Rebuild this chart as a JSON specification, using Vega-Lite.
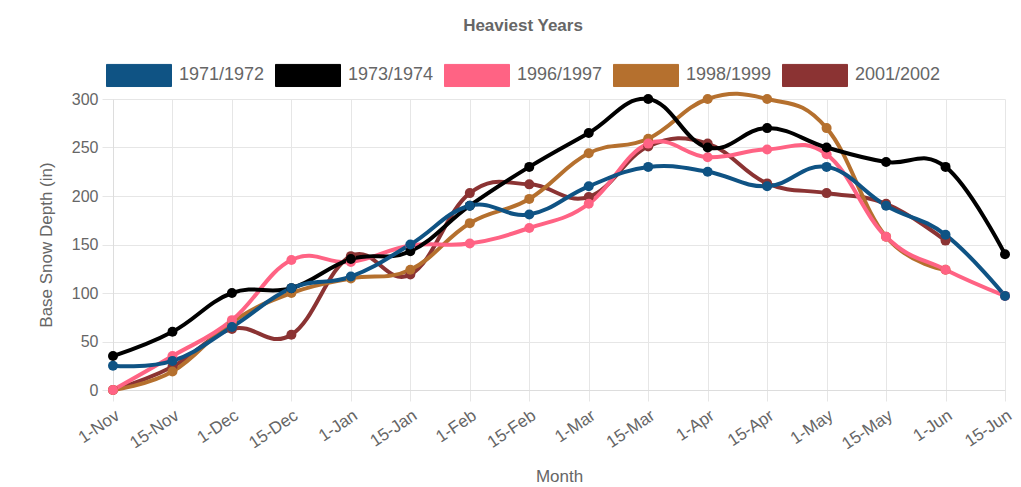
{
  "$schema": "https://vega.github.io/schema/vega-lite/v6.json",
  "width": 892,
  "height": 291,
  "autosize": {"type": "none"},
  "padding": {"left": 113, "top": 99, "right": 16, "bottom": 97},
  "background": "white",
  "title": {
    "text": "Heaviest Years",
    "fontSize": 17,
    "fontWeight": "bold",
    "color": "#666666",
    "font": "Liberation Sans",
    "anchor": "middle",
    "frame": "group",
    "dx": -36,
    "offset": 7
  },
  "config": {
    "view": {"stroke": null},
    "font": "Liberation Sans",
    "axis": {
      "labelFont": "Liberation Sans",
      "labelFontSize": 16,
      "labelColor": "#666666",
      "titleFont": "Liberation Sans",
      "titleFontSize": 17,
      "titleFontWeight": "normal",
      "titleColor": "#666666",
      "gridColor": "#e6e6e6",
      "gridOpacity": 1,
      "tickColor": "#e6e6e6",
      "domainColor": "#dddddd",
      "tickSize": 11
    }
  },
  "data": {
    "values": [
      {"season": "2001/2002", "date": "1-Nov", "depth": 0},
      {"season": "2001/2002", "date": "15-Nov", "depth": 24},
      {"season": "2001/2002", "date": "1-Dec", "depth": 63},
      {"season": "2001/2002", "date": "15-Dec", "depth": 57},
      {"season": "2001/2002", "date": "1-Jan", "depth": 138},
      {"season": "2001/2002", "date": "15-Jan", "depth": 119},
      {"season": "2001/2002", "date": "1-Feb", "depth": 203},
      {"season": "2001/2002", "date": "15-Feb", "depth": 212},
      {"season": "2001/2002", "date": "1-Mar", "depth": 199},
      {"season": "2001/2002", "date": "15-Mar", "depth": 251},
      {"season": "2001/2002", "date": "1-Apr", "depth": 254},
      {"season": "2001/2002", "date": "15-Apr", "depth": 213},
      {"season": "2001/2002", "date": "1-May", "depth": 203},
      {"season": "2001/2002", "date": "15-May", "depth": 192},
      {"season": "2001/2002", "date": "1-Jun", "depth": 154},
      {"season": "1998/1999", "date": "1-Nov", "depth": 0},
      {"season": "1998/1999", "date": "15-Nov", "depth": 19},
      {"season": "1998/1999", "date": "1-Dec", "depth": 70},
      {"season": "1998/1999", "date": "15-Dec", "depth": 100},
      {"season": "1998/1999", "date": "1-Jan", "depth": 115},
      {"season": "1998/1999", "date": "15-Jan", "depth": 124},
      {"season": "1998/1999", "date": "1-Feb", "depth": 172},
      {"season": "1998/1999", "date": "15-Feb", "depth": 197},
      {"season": "1998/1999", "date": "1-Mar", "depth": 244},
      {"season": "1998/1999", "date": "15-Mar", "depth": 259},
      {"season": "1998/1999", "date": "1-Apr", "depth": 300},
      {"season": "1998/1999", "date": "15-Apr", "depth": 300},
      {"season": "1998/1999", "date": "1-May", "depth": 270},
      {"season": "1998/1999", "date": "15-May", "depth": 158},
      {"season": "1998/1999", "date": "1-Jun", "depth": 124},
      {"season": "1996/1997", "date": "1-Nov", "depth": 0},
      {"season": "1996/1997", "date": "15-Nov", "depth": 35},
      {"season": "1996/1997", "date": "1-Dec", "depth": 72},
      {"season": "1996/1997", "date": "15-Dec", "depth": 134},
      {"season": "1996/1997", "date": "1-Jan", "depth": 132},
      {"season": "1996/1997", "date": "15-Jan", "depth": 149},
      {"season": "1996/1997", "date": "1-Feb", "depth": 151},
      {"season": "1996/1997", "date": "15-Feb", "depth": 167},
      {"season": "1996/1997", "date": "1-Mar", "depth": 192},
      {"season": "1996/1997", "date": "15-Mar", "depth": 254},
      {"season": "1996/1997", "date": "1-Apr", "depth": 240},
      {"season": "1996/1997", "date": "15-Apr", "depth": 248},
      {"season": "1996/1997", "date": "1-May", "depth": 243},
      {"season": "1996/1997", "date": "15-May", "depth": 158},
      {"season": "1996/1997", "date": "1-Jun", "depth": 124},
      {"season": "1996/1997", "date": "15-Jun", "depth": 97},
      {"season": "1973/1974", "date": "1-Nov", "depth": 35},
      {"season": "1973/1974", "date": "15-Nov", "depth": 60},
      {"season": "1973/1974", "date": "1-Dec", "depth": 100},
      {"season": "1973/1974", "date": "15-Dec", "depth": 105},
      {"season": "1973/1974", "date": "1-Jan", "depth": 135},
      {"season": "1973/1974", "date": "15-Jan", "depth": 143},
      {"season": "1973/1974", "date": "1-Feb", "depth": 190},
      {"season": "1973/1974", "date": "15-Feb", "depth": 230},
      {"season": "1973/1974", "date": "1-Mar", "depth": 265},
      {"season": "1973/1974", "date": "15-Mar", "depth": 300},
      {"season": "1973/1974", "date": "1-Apr", "depth": 250},
      {"season": "1973/1974", "date": "15-Apr", "depth": 270},
      {"season": "1973/1974", "date": "1-May", "depth": 250},
      {"season": "1973/1974", "date": "15-May", "depth": 235},
      {"season": "1973/1974", "date": "1-Jun", "depth": 230},
      {"season": "1973/1974", "date": "15-Jun", "depth": 140},
      {"season": "1971/1972", "date": "1-Nov", "depth": 25},
      {"season": "1971/1972", "date": "15-Nov", "depth": 30},
      {"season": "1971/1972", "date": "1-Dec", "depth": 65},
      {"season": "1971/1972", "date": "15-Dec", "depth": 105},
      {"season": "1971/1972", "date": "1-Jan", "depth": 117},
      {"season": "1971/1972", "date": "15-Jan", "depth": 150},
      {"season": "1971/1972", "date": "1-Feb", "depth": 190},
      {"season": "1971/1972", "date": "15-Feb", "depth": 181},
      {"season": "1971/1972", "date": "1-Mar", "depth": 210},
      {"season": "1971/1972", "date": "15-Mar", "depth": 230},
      {"season": "1971/1972", "date": "1-Apr", "depth": 225},
      {"season": "1971/1972", "date": "15-Apr", "depth": 210},
      {"season": "1971/1972", "date": "1-May", "depth": 230},
      {"season": "1971/1972", "date": "15-May", "depth": 190},
      {"season": "1971/1972", "date": "1-Jun", "depth": 160},
      {"season": "1971/1972", "date": "15-Jun", "depth": 97}
    ]
  },
  "encoding": {
    "x": {
      "field": "date",
      "type": "ordinal",
      "sort": ["1-Nov", "15-Nov", "1-Dec", "15-Dec", "1-Jan", "15-Jan", "1-Feb", "15-Feb", "1-Mar", "15-Mar", "1-Apr", "15-Apr", "1-May", "15-May", "1-Jun", "15-Jun"],
      "scale": {"type": "point", "padding": 0},
      "axis": {"title": "Month", "labelAngle": -34, "labelFontSize": 17, "grid": true, "titlePadding": 17, "labelPadding": 6}
    },
    "y": {
      "field": "depth",
      "type": "quantitative",
      "scale": {"domain": [0, 300], "nice": false},
      "axis": {"title": "Base Snow Depth (in)", "values": [0, 50, 100, 150, 200, 250, 300], "titlePadding": 16, "labelPadding": 4}
    },
    "color": {
      "field": "season",
      "type": "nominal",
      "scale": {
        "domain": ["1971/1972", "1973/1974", "1996/1997", "1998/1999", "2001/2002"],
        "range": ["#0f5384", "#000000", "#ff6384", "#b5702e", "#8b3333"]
      },
      "legend": {
        "title": null,
        "orient": "none",
        "direction": "horizontal",
        "legendX": -7,
        "legendY": -57,
        "symbolType": "M-1,-0.34H1V0.34H-1Z",
        "symbolSize": 4225,
        "symbolStrokeWidth": 1,
        "symbolOpacity": 1,
        "labelFontSize": 18,
        "labelColor": "#666666",
        "labelFont": "Liberation Sans",
        "labelOffset": 7,
        "columnPadding": 8
      }
    }
  },
  "layer": [
    {
      "mark": {"type": "line", "strokeWidth": 4, "interpolate": "cardinal", "tension": -0.2}
    },
    {
      "mark": {"type": "point", "filled": true, "size": 100, "opacity": 1}
    }
  ]
}
